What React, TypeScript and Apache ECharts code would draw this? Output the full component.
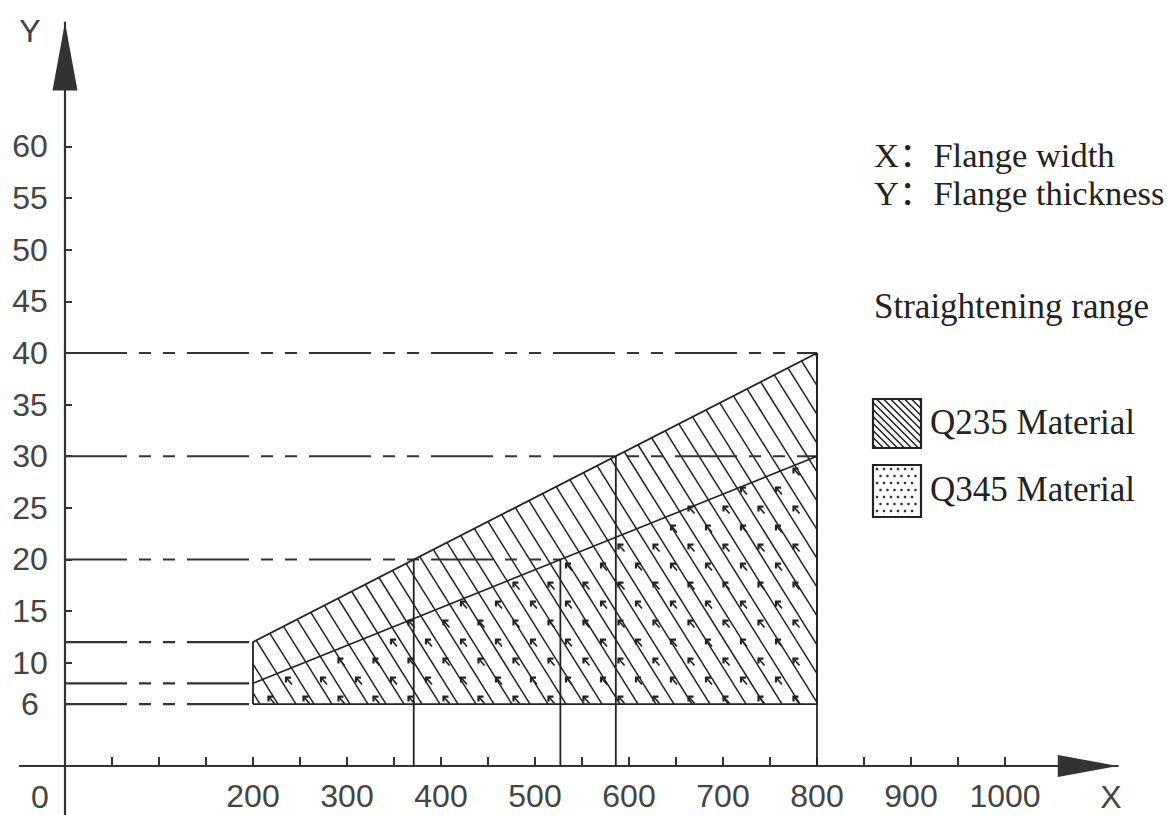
import React, { useEffect, useRef } from "react";
import * as echarts from "echarts";

// ---- data ----
const xLabelValues = [200, 300, 400, 500, 600, 700, 800, 900, 1000];
const xTickValues = [50, 100, 150, 200, 250, 300, 350, 400, 450, 500, 550, 600, 650, 700, 750, 800, 850, 900, 950, 1000];
const yLabelValues = [6, 10, 15, 20, 25, 30, 35, 40, 45, 50, 55, 60];
const yTickValues = [10, 15, 20, 25, 30, 35, 40, 45, 50, 55, 60];

const q235Region = [[200, 6], [200, 12], [800, 40], [800, 6]];
const q345Region = [[200, 6], [200, 8], [800, 30], [800, 6]];
const q345Top = [[200, 8], [800, 30]];

const guideLevels = [40, 30, 20, 12, 8, 6];
const guideEnds = [800, 800, 527, 200, 200, 200];

const dropX = [371, 527, 586, 800];
const dropTop = [20, 20, 30, 40];

const notes = ["X：Flange width", "Y：Flange thickness", "Straightening range"];
const legendNames = ["Q235 Material", "Q345 Material"];

// ---- layout ----
const X_MIN = -48, X_MAX = 1120, Y_MIN = -5, Y_MAX = 72;
const GRID = { left: 19.88, top: 22.6, width: 1097.9, height: 795.0 };
const X_AXIS_OFFSET = -(GRID.height * (0 - Y_MIN)) / (Y_MAX - Y_MIN);
const Y_AXIS_OFFSET = -(GRID.width * (0 - X_MIN)) / (X_MAX - X_MIN);

// ---- style ----
const SANS = "'Liberation Sans', Arial, sans-serif";
const SERIF = "'Liberation Serif', 'Times New Roman', 'Noto Sans CJK SC', serif";
const INK = "#222";
const AX = "#333";
const DASHDOT = [62, 12, 12, 12, 12, 12];

function insideConvex(pts: number[][], p: number[], margin: number) {
  let area = 0;
  for (let i = 0; i < pts.length; i++) {
    const a = pts[i], b = pts[(i + 1) % pts.length];
    area += a[0] * b[1] - b[0] * a[1];
  }
  const o = area > 0 ? 1 : -1;
  for (let i = 0; i < pts.length; i++) {
    const a = pts[i], b = pts[(i + 1) % pts.length];
    const ex = b[0] - a[0], ey = b[1] - a[1];
    const len = Math.hypot(ex, ey);
    const cr = ((ex * (p[1] - a[1]) - ey * (p[0] - a[0])) / len) * o;
    if (cr < margin) return false;
  }
  return true;
}

function hatchRender(region: number[][], slope: number, step: number) {
  return (_params: any, api: any) => {
    const pts = region.map((p) => api.coord(p));
    const cs = pts.map((p) => p[0] - p[1] / slope);
    const cMin = Math.min(...cs), cMax = Math.max(...cs);
    const children: any[] = [];
    for (let c = Math.ceil(cMin / step) * step; c <= cMax; c += step) {
      const hits: number[][] = [];
      for (let i = 0; i < pts.length; i++) {
        const A = pts[i], B = pts[(i + 1) % pts.length];
        const fA = A[0] - A[1] / slope - c;
        const fB = B[0] - B[1] / slope - c;
        if (((fA <= 0 && fB >= 0) || (fA >= 0 && fB <= 0)) && fA !== fB) {
          const t = fA / (fA - fB);
          hits.push([A[0] + (B[0] - A[0]) * t, A[1] + (B[1] - A[1]) * t]);
        }
      }
      if (hits.length >= 2) {
        hits.sort((a, b) => a[1] - b[1]);
        const p = hits[0], q = hits[hits.length - 1];
        if (Math.hypot(q[0] - p[0], q[1] - p[1]) > 1) {
          children.push({
            type: "line",
            shape: { x1: p[0], y1: p[1], x2: q[0], y2: q[1] },
            style: { stroke: INK, lineWidth: 1.5 },
          });
        }
      }
    }
    return { type: "group", children };
  };
}

function dotsRender(region: number[][], dx: number, dy: number) {
  return (_params: any, api: any) => {
    const pts = region.map((p) => api.coord(p));
    const minX = Math.min(...pts.map((p) => p[0]));
    const maxX = Math.max(...pts.map((p) => p[0]));
    const minY = Math.min(...pts.map((p) => p[1]));
    const maxY = Math.max(...pts.map((p) => p[1]));
    const children: any[] = [];
    let row = 0;
    for (let y = maxY - 4; y > minY; y -= dy, row++) {
      for (let x = minX + 19 + (row % 2) * (dx / 2); x < maxX; x += dx) {
        if (!insideConvex(pts, [x, y], 3)) continue;
        children.push({
          type: "polyline",
          shape: { points: [[x - 3.5, y + 1.5], [x - 3.5, y - 3.5], [x + 1.5, y - 3.5]] },
          style: { stroke: INK, lineWidth: 2.2, fill: null },
        });
        children.push({
          type: "line",
          shape: { x1: x - 3.5, y1: y - 3.5, x2: x + 2.5, y2: y + 3.5 },
          style: { stroke: INK, lineWidth: 1.7 },
        });
      }
    }
    return { type: "group", children };
  };
}

function swatchHatch(x0: number, y0: number, w: number, h: number, step: number) {
  const children: any[] = [];
  for (let c = -h + step / 2; c < w; c += step) {
    const xa = Math.max(x0, x0 + c);
    const xb = Math.min(x0 + w, x0 + c + h);
    if (xb - xa < 1) continue;
    children.push({
      type: "line",
      shape: { x1: xa, y1: y0 + (xa - x0 - c), x2: xb, y2: y0 + (xb - x0 - c) },
      style: { stroke: INK, lineWidth: 1.6 },
    });
  }
  children.push({
    type: "rect",
    shape: { x: x0, y: y0, width: w, height: h },
    style: { stroke: INK, lineWidth: 2.2, fill: null },
  });
  return children;
}

function swatchDots(x0: number, y0: number, w: number, h: number, step: number) {
  const children: any[] = [];
  let row = 0;
  for (let y = y0 + 4; y < y0 + h - 2; y += step, row++) {
    for (let x = x0 + 4 + (row % 2) * (step / 2); x < x0 + w - 2; x += step) {
      children.push({
        type: "circle",
        shape: { cx: x, cy: y, r: 1.3 },
        style: { fill: "#333" },
      });
    }
  }
  children.push({
    type: "rect",
    shape: { x: x0, y: y0, width: w, height: h },
    style: { stroke: INK, lineWidth: 2.2, fill: null },
  });
  return children;
}

function text(t: string, x: number, y: number, font: string, align = "left", fill = INK) {
  return {
    type: "text",
    silent: true,
    style: {
      text: t,
      x,
      y,
      font,
      fill,
      textAlign: align,
      verticalAlign: "middle",
      textVerticalAlign: "middle",
    },
  };
}

function buildOption() {
  const lineSeries = (data: number[][], style: any, z = 5) => ({
    type: "line",
    data,
    symbol: "none",
    silent: true,
    z,
    lineStyle: style,
  });

  const series: any[] = [
    {
      type: "custom",
      silent: true,
      z: 2,
      data: [[0, 0]],
      renderItem: hatchRender(q235Region, 1.6, 18),
    },
    {
      type: "custom",
      silent: true,
      z: 3,
      data: [[0, 0]],
      renderItem: dotsRender(q345Region, 35, 19),
    },
    lineSeries([...q235Region, q235Region[0]], { color: INK, width: 1.8 }),
    lineSeries(q345Top, { color: INK, width: 1.6 }),
    ...dropX.map((x, i) =>
      lineSeries([[x, 0], [x, dropTop[i]]], { color: INK, width: 1.8 })
    ),
    ...guideLevels.map((y, i) =>
      lineSeries([[0, y], [guideEnds[i], y]], { color: AX, width: 2.2, type: DASHDOT, dashOffset: 0 }, 4)
    ),
  ];

  const graphic: any[] = [
    text(notes[0], 874, 155, `34.5px ${SERIF}`),
    text(notes[1], 874, 193, `34.5px ${SERIF}`),
    text(notes[2], 874, 306, `35px ${SERIF}`),
    text(legendNames[0], 930, 422, `35px ${SERIF}`),
    text(legendNames[1], 930, 489, `35px ${SERIF}`),
    { type: "group", silent: true, children: swatchHatch(873, 399, 48, 49, 7) },
    { type: "group", silent: true, children: swatchDots(873, 465, 48, 52, 7) },
    text("Y", 30, 31, `32px ${SANS}`, "center", "#444"),
    text("X", 1111, 797, `32px ${SANS}`, "center", "#444"),
    text("0", 40, 797, `32px ${SANS}`, "center", "#444"),
  ];

  return {
    animation: false,
    backgroundColor: "#fff",
    grid: {
      ...GRID,
      containLabel: false,
      outerBoundsMode: "none",
    },
    xAxis: {
      type: "value",
      min: X_MIN,
      max: X_MAX,
      offset: X_AXIS_OFFSET,
      axisLine: {
        onZero: false,
        symbol: ["none", "triangle"],
        symbolSize: [22, 60],
        symbolOffset: [0, -30],
        lineStyle: { color: AX, width: 2.2 },
      },
      axisTick: { show: true, inside: true, length: 9, customValues: xTickValues, lineStyle: { color: AX, width: 2 } },
      axisLabel: {
        show: true,
        customValues: xLabelValues,
        formatter: (v: number) => String(v),
        margin: 14,
        fontSize: 32,
        fontFamily: SANS,
        color: "#444",
      },
      splitLine: { show: false },
    },
    yAxis: {
      type: "value",
      min: Y_MIN,
      max: Y_MAX,
      offset: Y_AXIS_OFFSET,
      axisLine: {
        onZero: false,
        symbol: ["none", "triangle"],
        symbolSize: [25, 68],
        symbolOffset: [0, -34],
        lineStyle: { color: AX, width: 2.2 },
      },
      axisTick: { show: true, inside: true, length: 7, customValues: yTickValues, lineStyle: { color: AX, width: 2 } },
      axisLabel: {
        show: true,
        customValues: yLabelValues,
        formatter: (v: number) => String(v),
        margin: 35,
        align: "center",
        fontSize: 32,
        fontFamily: SANS,
        color: "#444",
      },
      splitLine: { show: false },
    },
    series,
    graphic,
  };
}

export default function App() {
  const ref = useRef<HTMLDivElement>(null);
  useEffect(() => {
    if (!ref.current) return;
    const chart = echarts.init(ref.current, null, { renderer: "svg" });
    chart.setOption(buildOption() as any);
    return () => chart.dispose();
  }, []);
  return (
    <div
      ref={ref}
      style={{ position: "fixed", left: 0, top: 0, width: 1170, height: 815, background: "#fff" }}
    />
  );
}
